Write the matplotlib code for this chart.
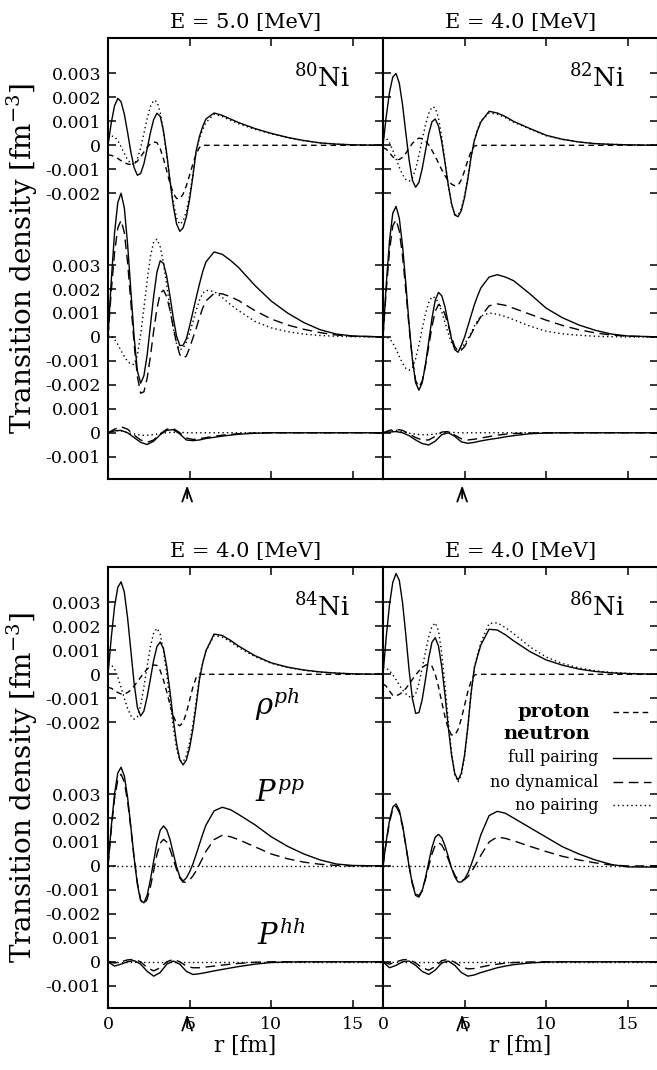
import numpy as np
import matplotlib
matplotlib.use("Agg")
import matplotlib.pyplot as plt
from matplotlib import transforms
from matplotlib.lines import Line2D

plt.rcParams["font.family"] = "DejaVu Serif"
plt.rcParams["mathtext.fontset"] = "dejavuserif"

# ---------------------------------------------------------------
# radial grids [fm] and transition densities [1e-3 fm^-3]
# full = full pairing, nodyn = no dynamical pairing,
# none = no pairing, prot = proton
# ---------------------------------------------------------------
r_fine = [0.0, 0.2, 0.4, 0.6, 0.8, 1.0, 1.2, 1.4, 1.6, 1.8, 2.0, 2.2, 2.4, 2.6, 2.8,
          3.0, 3.2, 3.4, 3.6, 3.8, 4.0, 4.2, 4.4, 4.6, 4.8, 5.0, 5.2, 5.4, 5.6, 5.8,
          6.0, 6.5, 7.0, 7.5, 8.0, 9.0, 10.0, 11.0, 12.0, 13.0, 14.0, 15.0, 17.0]
r = [0.0, 0.4, 0.8, 1.2, 1.6, 2.0, 2.4, 2.8, 3.2, 3.6, 4.0, 4.4, 4.8, 5.2,
     5.6, 6.0, 6.5, 7.0, 7.5, 8.0, 9.0, 10.0, 11.0, 12.0, 13.0, 14.0, 15.0, 17.0]
r_edge = [0.0, 17.0]
flat = [0.0, 0.0]

# 80Ni, E = 5.0 MeV
ni80_rho_full = [0.0, 0.94, 1.65, 1.96, 1.82, 1.30, 0.54, -0.28, -0.93, -1.25, -1.18, -0.77, -0.15,
                 0.53, 1.08, 1.34, 1.21, 0.6, -0.36, -1.48, -2.53, -3.28, -3.59, -3.45, -2.99, -2.25,
                 -1.30, -0.23, 0.36, 0.78, 1.10,
                 1.35, 1.25, 1.1, 0.95, 0.7, 0.5, 0.33, 0.2, 0.1, 0.05, 0.02, 0.0]
ni80_rho_none = [0.3, 0.39, 0.36, 0.2, -0.06, -0.34, -0.6, -0.76, -0.79, -0.57, -0.1, 0.5, 1.12,
                 1.62, 1.88, 1.82, 1.38, 0.55, -0.44, -1.48, -2.36, -3.04, -3.3, -3.17, -2.76, -2.09,
                 -1.23, -0.25, 0.29, 0.65, 0.95,
                 1.3, 1.2, 1.05, 0.9, 0.67, 0.48, 0.32, 0.19, 0.1, 0.05, 0.02, 0.0]
ni80_rho_prot = [-0.4, -0.42, -0.47, -0.55, -0.64, -0.72, -0.78, -0.8, -0.77, -0.66, -0.48, -0.28, -0.08,
                 0.06, 0.14, 0.11, -0.14, -0.57, -1.07, -1.59, -2.0, -2.22, -2.23, -2.04, -1.69, -1.24,
                 -0.78, -0.37, -0.09, 0.0, 0.0,
                 0.0, 0.0, 0.0, 0.0, 0.0, 0.0, 0.0, 0.0, 0.0, 0.0, 0.0, 0.0]
ni80_pp_full = [0.0, 2.35, 4.33, 5.61, 6.0, 5.39, 3.88, 1.94, 0.01, -1.42, -1.93, -1.62, -0.75,
                0.48, 1.71, 2.71, 3.18, 3.07, 2.52, 1.7, 0.79, 0.04, -0.36, -0.35, -0.08, 0.45,
                1.04, 1.63, 2.2, 2.72, 3.13,
                3.55, 3.45, 3.2, 2.9, 2.15, 1.5, 1.0, 0.6, 0.3, 0.12, 0.04, 0.0]
ni80_pp_nodyn = [0.0, 1.91, 3.51, 4.55, 4.87, 4.36, 3.12, 1.45, -0.29, -1.65, -2.35, -2.29, -1.72,
                 -0.8, 0.26, 1.18, 1.83, 1.95, 1.68, 1.11, 0.41, -0.26, -0.74, -0.89, -0.8, -0.45,
                 -0.05, 0.35, 0.8, 1.2, 1.5,
                 1.82, 1.8, 1.68, 1.52, 1.1, 0.75, 0.5, 0.32, 0.18, 0.08, 0.03, 0.0]
ni80_pp_none = [0.1, 0.05, -0.1, -0.31, -0.57, -0.81, -1.02, -1.14, -1.15, -0.76, 0.1, 1.2, 2.36,
                3.36, 3.97, 4.08, 3.76, 3.08, 2.15, 1.2, 0.34, -0.29, -0.54, -0.47, -0.22, 0.16,
                0.63, 1.1, 1.52, 1.82, 1.95,
                1.9, 1.65, 1.35, 1.1, 0.65, 0.38, 0.22, 0.12, 0.06, 0.03, 0.01, 0.0]
ni80_hh_full = [0.0, 0.08, 0.1, 0.0, -0.2, -0.4, -0.49, -0.35, -0.08, 0.1, 0.13, -0.05, -0.3, -0.33,
                -0.3, -0.24, -0.19, -0.14, -0.1, -0.06, -0.02, 0.0, 0.0, 0.0, 0.0, 0.0, 0.0, 0.0]
ni80_hh_nodyn = [0.0, 0.15, 0.25, 0.15, -0.1, -0.3, -0.4, -0.3, -0.05, 0.15, 0.18, 0.0, -0.22, -0.28,
                 -0.25, -0.2, -0.15, -0.1, -0.07, -0.04, -0.01, 0.0, 0.0, 0.0, 0.0, 0.0, 0.0, 0.0]
ni80_hh_none = [0.0, 0.1, 0.08, 0.0, -0.05, -0.1, -0.1, -0.08, -0.03, 0.0, 0.02, 0.02, 0.0, 0.0,
                0.0, 0.0, 0.0, 0.0, 0.0, 0.0, 0.0, 0.0, 0.0, 0.0, 0.0, 0.0, 0.0, 0.0]

# 82Ni, E = 4.0 MeV
ni82_rho_full = [0.0, 1.21, 2.22, 2.85, 3.0, 2.59, 1.68, 0.51, -0.61, -1.46, -1.75, -1.55, -0.98,
                 -0.24, 0.48, 0.98, 1.1, 0.81, 0.14, -0.73, -1.66, -2.43, -2.91, -2.98, -2.72, -2.17,
                 -1.4, -0.48, 0.21, 0.63, 0.98,
                 1.42, 1.35, 1.2, 1.0, 0.7, 0.42, 0.25, 0.14, 0.07, 0.04, 0.02, 0.0]
ni82_rho_none = [0.37, 0.3, 0.1, -0.21, -0.57, -0.92, -1.23, -1.43, -1.5, -1.37, -0.98, -0.42, 0.23,
                 0.85, 1.33, 1.6, 1.57, 1.14, 0.34, -0.67, -1.67, -2.47, -2.9, -2.92, -2.64, -2.09,
                 -1.34, -0.46, 0.23, 0.68, 1.03,
                 1.35, 1.3, 1.15, 0.97, 0.68, 0.4, 0.25, 0.14, 0.07, 0.04, 0.02, 0.0]
ni82_rho_prot = [-0.1, -0.16, -0.31, -0.48, -0.59, -0.59, -0.5, -0.33, -0.12, 0.08, 0.22, 0.3, 0.28,
                 0.18, 0.02, -0.21, -0.46, -0.74, -1.02, -1.27, -1.48, -1.62, -1.69, -1.67, -1.44, -1.06,
                 -0.62, -0.25, -0.03, 0.0, 0.0,
                 0.0, 0.0, 0.0, 0.0, 0.0, 0.0, 0.0, 0.0, 0.0, 0.0, 0.0, 0.0]
ni82_pp_full = [0.0, 2.19, 4.03, 5.17, 5.45, 4.95, 3.78, 2.21, 0.52, -0.94, -1.91, -2.22, -1.92,
                -1.16, -0.2, 0.78, 1.53, 1.86, 1.72, 1.25, 0.57, -0.09, -0.53, -0.64, -0.35, 0.0,
                0.45, 0.9, 1.35, 1.72, 2.05,
                2.5, 2.6, 2.5, 2.35, 1.8, 1.2, 0.8, 0.5, 0.28, 0.12, 0.04, 0.0]
ni82_pp_nodyn = [0.0, 1.96, 3.61, 4.64, 4.89, 4.42, 3.36, 1.93, 0.4, -0.93, -1.82, -2.1, -1.84,
                 -1.2, -0.4, 0.44, 1.07, 1.35, 1.26, 0.94, 0.48, -0.02, -0.41, -0.59, -0.55, -0.4,
                 -0.15, 0.12, 0.38, 0.62, 0.85,
                 1.3, 1.38, 1.32, 1.2, 0.95, 0.7, 0.48, 0.3, 0.17, 0.08, 0.03, 0.0]
ni82_pp_none = [0.0, 0.0, -0.07, -0.25, -0.52, -0.82, -1.1, -1.31, -1.39, -1.29, -0.91, -0.33, 0.33,
                0.96, 1.44, 1.68, 1.64, 1.42, 1.05, 0.59, 0.14, -0.24, -0.48, -0.53, -0.46, -0.3,
                -0.08, 0.18, 0.45, 0.69, 0.87,
                1.0, 0.95, 0.85, 0.72, 0.45, 0.24, 0.13, 0.07, 0.03, 0.01, 0.0, 0.0]
ni82_hh_full = [0.0, 0.03, 0.05, 0.0, -0.12, -0.3, -0.45, -0.51, -0.35, -0.08, 0.0, -0.15, -0.38, -0.44,
                -0.4, -0.34, -0.28, -0.23, -0.17, -0.12, -0.04, -0.01, 0.0, 0.0, 0.0, 0.0, 0.0, 0.0]
ni82_hh_nodyn = [0.0, 0.1, 0.15, 0.1, -0.05, -0.2, -0.3, -0.3, -0.15, 0.03, 0.05, -0.1, -0.25, -0.3,
                 -0.27, -0.22, -0.16, -0.1, -0.06, -0.03, -0.01, 0.0, 0.0, 0.0, 0.0, 0.0, 0.0, 0.0]
ni82_hh_none = [0.0, 0.07, 0.1, 0.05, -0.02, -0.06, -0.08, -0.08, -0.05, 0.0, 0.02, 0.01, 0.0, 0.0,
                0.0, 0.0, 0.0, 0.0, 0.0, 0.0, 0.0, 0.0, 0.0, 0.0, 0.0, 0.0, 0.0, 0.0]

# 84Ni, E = 4.0 MeV
ni84_rho_full = [0.0, 1.53, 2.82, 3.63, 3.86, 3.43, 2.36, 0.99, -0.37, -1.38, -1.74, -1.53, -0.94,
                 -0.18, 0.59, 1.16, 1.35, 1.07, 0.32, -0.73, -1.88, -2.88, -3.57, -3.78, -3.58, -3.07,
                 -2.3, -1.32, -0.23, 0.46, 0.98,
                 1.68, 1.62, 1.42, 1.18, 0.78, 0.48, 0.3, 0.18, 0.1, 0.05, 0.02, 0.0]
ni84_rho_none = [0.42, 0.4, 0.22, -0.11, -0.55, -1.0, -1.42, -1.73, -1.87, -1.78, -1.3, -0.53, 0.35,
                 1.16, 1.73, 1.92, 1.67, 0.99, -0.01, -1.13, -2.22, -3.1, -3.6, -3.66, -3.39, -2.85,
                 -2.08, -1.14, -0.11, 0.48, 0.97,
                 1.62, 1.55, 1.36, 1.12, 0.74, 0.46, 0.29, 0.17, 0.09, 0.05, 0.02, 0.0]
ni84_rho_prot = [-0.55, -0.58, -0.67, -0.76, -0.82, -0.82, -0.76, -0.65, -0.49, -0.31, -0.12, 0.06, 0.22,
                 0.33, 0.39, 0.37, 0.16, -0.24, -0.74, -1.27, -1.73, -2.05, -2.15, -2.01, -1.61, -1.08,
                 -0.54, -0.14, 0.0, 0.0, 0.0,
                 0.0, 0.0, 0.0, 0.0, 0.0, 0.0, 0.0, 0.0, 0.0, 0.0, 0.0, 0.0]
ni84_pp_full = [0.0, 1.64, 3.01, 3.88, 4.12, 3.76, 2.87, 1.64, 0.34, -0.77, -1.44, -1.54, -1.22,
                -0.57, 0.21, 0.96, 1.49, 1.67, 1.51, 1.1, 0.53, -0.03, -0.45, -0.63, -0.5, -0.25,
                0.08, 0.48, 0.9, 1.32, 1.7,
                2.3, 2.45, 2.35, 2.15, 1.72, 1.22, 0.82, 0.5, 0.25, 0.08, 0.02, 0.0]
ni84_pp_nodyn = [0.0, 1.52, 2.8, 3.6, 3.83, 3.5, 2.7, 1.57, 0.34, -0.69, -1.42, -1.61, -1.39,
                 -0.87, -0.19, 0.48, 0.95, 1.11, 1.0, 0.7, 0.27, -0.15, -0.5, -0.68, -0.67, -0.58,
                 -0.42, -0.2, 0.06, 0.33, 0.61,
                 1.1, 1.28, 1.22, 1.1, 0.8, 0.5, 0.3, 0.16, 0.07, 0.02, 0.0, 0.0]
ni84_hh_full = [0.0, -0.18, -0.1, 0.0, 0.05, -0.1, -0.4, -0.6, -0.45, -0.1, 0.03, -0.1, -0.4, -0.53,
                -0.5, -0.45, -0.38, -0.32, -0.26, -0.2, -0.1, -0.03, -0.01, 0.0, 0.0, 0.0, 0.0, 0.0]
ni84_hh_nodyn = [0.0, -0.05, 0.0, 0.08, 0.1, 0.0, -0.25, -0.38, -0.25, 0.0, 0.1, 0.0, -0.18, -0.25,
                 -0.25, -0.22, -0.18, -0.14, -0.1, -0.07, -0.02, 0.0, 0.0, 0.0, 0.0, 0.0, 0.0, 0.0]

# 86Ni, E = 4.0 MeV
ni86_rho_full = [0.0, 1.57, 2.92, 3.84, 4.21, 3.92, 2.98, 1.63, 0.17, -1.01, -1.63, -1.6, -1.06,
                 -0.22, 0.68, 1.34, 1.53, 1.18, 0.32, -0.88, -2.2, -3.37, -4.15, -4.42, -4.13, -3.36,
                 -2.18, -0.76, 0.27, 0.78, 1.23,
                 1.88, 1.85, 1.65, 1.4, 0.95, 0.6, 0.38, 0.22, 0.12, 0.06, 0.03, 0.0]
ni86_rho_none = [0.3, 0.26, 0.15, -0.02, -0.22, -0.45, -0.65, -0.82, -0.93, -0.97, -0.82, -0.38, 0.25,
                 0.93, 1.56, 1.99, 2.15, 1.82, 0.87, -0.47, -1.96, -3.24, -4.19, -4.5, -4.21, -3.42,
                 -2.22, -0.77, 0.29, 0.84, 1.34,
                 2.12, 2.15, 1.95, 1.7, 1.15, 0.72, 0.45, 0.27, 0.15, 0.08, 0.04, 0.0]
ni86_rho_prot = [-0.4, -0.5, -0.7, -0.88, -0.89, -0.84, -0.73, -0.59, -0.41, -0.21, -0.03, 0.14, 0.28,
                 0.38, 0.42, 0.34, 0.01, -0.52, -1.16, -1.78, -2.27, -2.53, -2.54, -2.3, -1.85, -1.29,
                 -0.72, -0.28, -0.03, 0.0, 0.0,
                 0.0, 0.0, 0.0, 0.0, 0.0, 0.0, 0.0, 0.0, 0.0, 0.0, 0.0, 0.0]
ni86_pp_full = [0.0, 1.04, 1.91, 2.46, 2.59, 2.32, 1.7, 0.86, -0.03, -0.76, -1.23, -1.3, -1.04,
                -0.5, 0.15, 0.77, 1.2, 1.32, 1.18, 0.84, 0.39, -0.09, -0.46, -0.67, -0.67, -0.54,
                -0.3, 0.05, 0.44, 0.87, 1.31,
                2.1, 2.28, 2.2, 2.0, 1.6, 1.2, 0.8, 0.5, 0.25, 0.06, -0.04, -0.05]
ni86_pp_nodyn = [0.0, 1.0, 1.84, 2.37, 2.49, 2.23, 1.64, 0.84, -0.01, -0.71, -1.16, -1.24, -1.02,
                 -0.56, -0.01, 0.5, 0.87, 0.97, 0.87, 0.62, 0.28, -0.07, -0.38, -0.58, -0.62, -0.57,
                 -0.45, -0.26, -0.04, 0.2, 0.45,
                 1.0, 1.21, 1.15, 1.05, 0.82, 0.6, 0.4, 0.25, 0.13, 0.04, 0.0, 0.0]
ni86_hh_full = [0.0, -0.25, -0.15, 0.0, 0.03, -0.15, -0.4, -0.53, -0.35, -0.05, 0.03, -0.15, -0.45, -0.6,
                -0.55, -0.45, -0.35, -0.25, -0.18, -0.12, -0.05, -0.01, 0.0, 0.0, 0.0, 0.0, 0.0, 0.0]
ni86_hh_nodyn = [0.0, -0.1, 0.0, 0.08, 0.1, -0.05, -0.25, -0.35, -0.2, 0.05, 0.1, -0.02, -0.2, -0.3,
                 -0.28, -0.22, -0.15, -0.1, -0.06, -0.03, -0.01, 0.0, 0.0, 0.0, 0.0, 0.0, 0.0, 0.0]

energies = ["5.0", "4.0", "4.0", "4.0"]
masses = ["80", "82", "84", "86"]
r_arrow = 4.85

# vertical shifts of the three blocks (rho^ph, P^pp, P^hh), same units
OFF_PH, OFF_PP, OFF_HH = 0.0, -8.0, -12.0

ytick_pos = [3, 2, 1, 0, -1, -2, -5, -6, -7, -8, -9, -10, -11, -12, -13]
ytick_lab = ["0.003", "0.002", "0.001", "0", "-0.001", "-0.002",
             "0.003", "0.002", "0.001", "0", "-0.001", "-0.002",
             "0.001", "0", "-0.001"]

STYLE = {
    "full": "-",
    "nodyn": (0, (7, 4)),
    "none": (0, (1, 2.2)),
    "prot": (0, (4, 3)),
}

panels = [
    [(r_fine, ni80_rho_prot, "prot", OFF_PH), (r_fine, ni80_rho_none, "none", OFF_PH),
     (r_fine, ni80_rho_full, "full", OFF_PH),
     (r_fine, ni80_pp_none, "none", OFF_PP), (r_fine, ni80_pp_nodyn, "nodyn", OFF_PP),
     (r_fine, ni80_pp_full, "full", OFF_PP),
     (r, ni80_hh_none, "none", OFF_HH), (r, ni80_hh_nodyn, "nodyn", OFF_HH), (r, ni80_hh_full, "full", OFF_HH)],
    [(r_fine, ni82_rho_prot, "prot", OFF_PH), (r_fine, ni82_rho_none, "none", OFF_PH),
     (r_fine, ni82_rho_full, "full", OFF_PH),
     (r_fine, ni82_pp_none, "none", OFF_PP), (r_fine, ni82_pp_nodyn, "nodyn", OFF_PP),
     (r_fine, ni82_pp_full, "full", OFF_PP),
     (r, ni82_hh_none, "none", OFF_HH), (r, ni82_hh_nodyn, "nodyn", OFF_HH), (r, ni82_hh_full, "full", OFF_HH)],
    [(r_fine, ni84_rho_prot, "prot", OFF_PH), (r_fine, ni84_rho_none, "none", OFF_PH),
     (r_fine, ni84_rho_full, "full", OFF_PH),
     (r_edge, flat, "none", OFF_PP), (r_fine, ni84_pp_nodyn, "nodyn", OFF_PP),
     (r_fine, ni84_pp_full, "full", OFF_PP),
     (r_edge, flat, "none", OFF_HH), (r, ni84_hh_nodyn, "nodyn", OFF_HH), (r, ni84_hh_full, "full", OFF_HH)],
    [(r_fine, ni86_rho_prot, "prot", OFF_PH), (r_fine, ni86_rho_none, "none", OFF_PH),
     (r_fine, ni86_rho_full, "full", OFF_PH),
     (r_edge, flat, "none", OFF_PP), (r_fine, ni86_pp_nodyn, "nodyn", OFF_PP),
     (r_fine, ni86_pp_full, "full", OFF_PP),
     (r_edge, flat, "none", OFF_HH), (r, ni86_hh_nodyn, "nodyn", OFF_HH), (r, ni86_hh_full, "full", OFF_HH)],
]

# ---- layout (pixels -> figure fractions) ----
FW, FH = 657, 1070
fig = plt.figure(figsize=(FW / 100, FH / 100), dpi=100)
w, h = 275 / FW, 441 / FH
boxes = [(108 / FW, 1 - 479 / FH), (383 / FW, 1 - 479 / FH),
         (108 / FW, 1 - 1008 / FH), (383 / FW, 1 - 1008 / FH)]

axes = []
for i, (x0, y0) in enumerate(boxes):
    ax = fig.add_axes([x0, y0, w, h])
    axes.append(ax)
    for rv, yv, kind, off in panels[i]:
        ax.plot(rv, np.asarray(yv) + off, color="k", lw=1.0, ls=STYLE[kind])

    ax.set_xlim(0, 16.85)
    ax.set_ylim(-13.93, 4.48)
    ax.set_xticks([0, 5, 10, 15])
    ax.set_xticklabels(["0", "5", "10", "15"])
    ax.set_yticks(ytick_pos)
    ax.set_yticklabels(ytick_lab)
    ax.tick_params(direction="in", top=True, right=True, length=6, width=1.1,
                   labelsize=12.5, pad=5)
    ax.tick_params(axis="x", pad=6)
    for sp in ax.spines.values():
        sp.set_linewidth(1.5)

    left = i % 2 == 0
    bottom = i >= 2
    ax.tick_params(labelleft=left, labelbottom=bottom)

    ax.set_title("E = %s [MeV]" % energies[i], fontsize=15, pad=7)
    ax.text(0.88, 0.91, r"$^{%s}$Ni" % masses[i], transform=ax.transAxes,
            ha="right", va="center", fontsize=18.5)

    if bottom:
        ax.set_xlabel("r [fm]", fontsize=15.5, labelpad=1)

    # arrow under the axis marking r = 4.85 fm
    trans = transforms.blended_transform_factory(ax.transData, ax.transAxes)
    ax.annotate("", xy=(r_arrow, -0.008), xycoords=trans,
                xytext=(r_arrow, -0.05), textcoords=trans,
                arrowprops=dict(arrowstyle="->,head_length=0.7,head_width=0.25",
                                color="k", lw=1.3, mutation_scale=14),
                annotation_clip=False)

# y labels for the two rows
for row_top in (38, 567):
    fig.text(22 / FW, 1 - (row_top + 220.5) / FH, "Transition density [fm$^{-3}$]",
             rotation=90, ha="center", va="center", fontsize=20)

# block labels in the 84Ni panel
ax = axes[2]
ax.text(9.0, -1.25, r"$\rho^{ph}$", fontsize=21, ha="left", va="center")
ax.text(9.0, -5.0, r"$P^{pp}$", fontsize=21, ha="left", va="center")
ax.text(9.1, -10.9, r"$P^{hh}$", fontsize=21, ha="left", va="center")

# legend drawn by hand in the 86Ni panel
ax = axes[3]
leg_items = [
    ("proton", True, 0.671, STYLE["prot"]),
    ("neutron", True, 0.621, None),
    ("full pairing", False, 0.567, STYLE["full"]),
    ("no dynamical", False, 0.512, STYLE["nodyn"]),
    ("no pairing", False, 0.460, STYLE["none"]),
]
for label, bold, yy, ls in leg_items:
    if bold:
        ax.text(0.752, yy, label, transform=ax.transAxes, ha="right", va="center",
                fontsize=14, fontweight="bold")
    else:
        ax.text(0.785, yy, label, transform=ax.transAxes, ha="right", va="center",
                fontsize=11.5)
    if ls is not None:
        ax.add_line(Line2D([0.836, 0.974], [yy, yy], transform=ax.transAxes,
                           color="k", lw=1.0, ls=ls))

fig.savefig("out.png", dpi=100)
